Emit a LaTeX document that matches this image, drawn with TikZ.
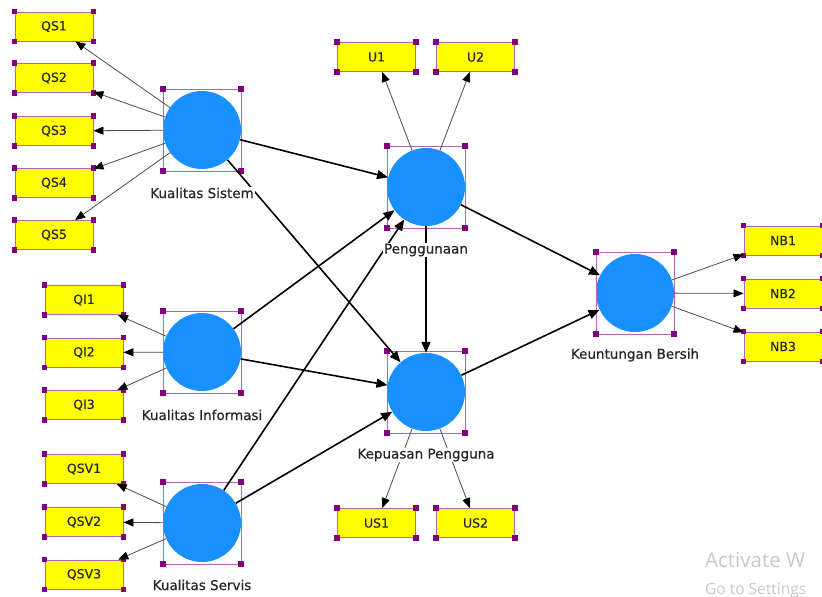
\documentclass[tikz,border=0pt]{standalone}
\usepackage{fontspec}
\setmainfont{DejaVu Sans}
\newfontfamily\lblfont[FakeBold=0.5]{DejaVu Sans}
\newfontfamily\wmfont{Open Sans}
\usetikzlibrary{arrows.meta,calc}
\definecolor{lvblue}{RGB}{24,144,255}
\definecolor{handlec}{RGB}{128,0,128}
\definecolor{framec}{RGB}{180,100,180}
\definecolor{mvyellow}{RGB}{255,255,0}
\definecolor{wmc}{RGB}{200,200,200}
\begin{document}
\begin{tikzpicture}[x=1pt,y=-1pt,
  lv/.style={circle,fill=lvblue,minimum size=78pt,inner sep=0pt},
  mv/.style={rectangle,fill=mvyellow,draw=framec,line width=0.9pt,minimum width=78pt,minimum height=29pt,inner sep=0pt,font=\lblfont\fontsize{12.5}{14}\selectfont,text=black!85},
  lvlabel/.style={fill=white,inner sep=1pt,font=\lblfont\fontsize{13.5}{15}\selectfont,text=black!85},
  outerarr/.style={draw=black!70,line width=0.8pt,-{Triangle[length=10pt,width=8pt,color=black]}},
  innerarr/.style={draw=black,line width=1.6pt,-{Triangle[length=11pt,width=9pt]}},
  lvframe/.style={draw=framec,line width=0.8pt},
  hdl/.style={fill=handlec},
  wmtext/.style={anchor=base west,inner sep=0pt,text=wmc}
]
\clip (0,0) rectangle (822,597);
\fill[white] (0,0) rectangle (822,597);

% latent variables
\node[lv] (KS) at (202,130) {};
\node[lv] (KI) at (202,352) {};
\node[lv] (KV) at (202,523) {};
\node[lv] (PG) at (426,187) {};
\node[lv] (KP) at (426,392) {};
\node[lv] (KB) at (635,293) {};

\foreach \n in {KS,KI,KV,PG,KP,KB}{
  \draw[lvframe] ($(\n)+(-39,-41)$) rectangle ($(\n)+(39,41)$);
  \foreach \dx/\dy in {-39/-41,39/-41,-39/41,39/41}
    \fill[hdl] ($(\n)+(\dx,\dy)$) ++(-2.75,-2.75) rectangle ++(5.5,5.5);
}

% indicators
\node[mv] (QS1) at (54,26.5) {QS1};
\node[mv] (QS2) at (54,78) {QS2};
\node[mv] (QS3) at (54,131) {QS3};
\node[mv] (QS4) at (54,183) {QS4};
\node[mv] (QS5) at (54,235) {QS5};
\node[mv] (QI1) at (84,300) {QI1};
\node[mv] (QI2) at (84,352.5) {QI2};
\node[mv] (QI3) at (84,405) {QI3};
\node[mv] (QSV1) at (84,469) {QSV1};
\node[mv] (QSV2) at (84,522) {QSV2};
\node[mv] (QSV3) at (84,574.5) {QSV3};
\node[mv] (U1) at (376.5,57) {U1};
\node[mv] (U2) at (475.5,57) {U2};
\node[mv] (US1) at (376.5,523) {US1};
\node[mv] (US2) at (475.5,523) {US2};
\node[mv] (NB1) at (783,240.5) {NB1};
\node[mv] (NB2) at (783,293.5) {NB2};
\node[mv] (NB3) at (783,346.5) {NB3};

\foreach \n in {QS1,QS2,QS3,QS4,QS5,QI1,QI2,QI3,QSV1,QSV2,QSV3,U1,U2,US1,US2,NB1,NB2,NB3}
  \foreach \a in {north west,north east,south west,south east}
    \fill[hdl] (\n.\a) ++(-2.75,-2.75) rectangle ++(5.5,5.5);

% outer model
\foreach \t in {QS1,QS2,QS3,QS4,QS5} \draw[outerarr] (KS) -- (\t);
\foreach \t in {QI1,QI2,QI3} \draw[outerarr] (KI) -- (\t);
\foreach \t in {QSV1,QSV2,QSV3} \draw[outerarr] (KV) -- (\t);
\foreach \t in {U1,U2} \draw[outerarr] (PG) -- (\t);
\foreach \t in {US1,US2} \draw[outerarr] (KP) -- (\t);
\foreach \t in {NB1,NB2,NB3} \draw[outerarr] (KB) -- (\t);

% inner model
\draw[innerarr] (KS) -- (PG);
\draw[innerarr] (KS) -- (KP);
\draw[innerarr] (KI) -- (PG);
\draw[innerarr] (KI) -- (KP);
\draw[innerarr] (KV) -- (PG);
\draw[innerarr] (KV) -- (KP);
\draw[innerarr] (PG) -- (KP);
\draw[innerarr] (PG) -- (KB);
\draw[innerarr] (KP) -- (KB);

% labels
\node[lvlabel] (lKS) at (202,193) {Kualitas Sistem};
\node[lvlabel] (lKI) at (202,415) {Kualitas Informasi};
\node[lvlabel] (lKV) at (202,585) {Kualitas Servis};
\node[lvlabel] (lPG) at (426,250) {Penggunaan};
\node[lvlabel] (lKP) at (426,455) {Kepuasan Pengguna};
\node[lvlabel] (lKB) at (635,355) {Keuntungan Bersih};

% watermark
\node[wmtext,font=\wmfont\fontsize{20.5}{24}\selectfont] (wm1) at (705,567) {Activate W};
\node[wmtext,font=\wmfont\fontsize{15.5}{18}\selectfont] (wm2) at (705,594) {Go to Settings};
\end{tikzpicture}
\end{document}
